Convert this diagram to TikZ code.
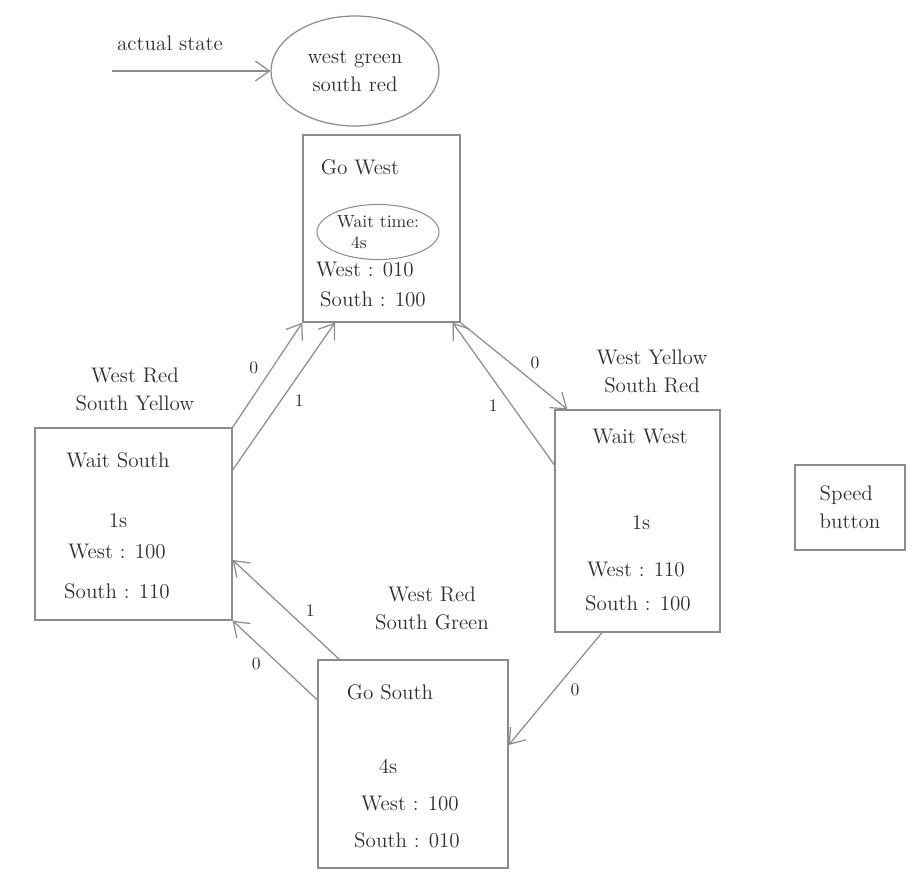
\documentclass[tikz,border=0pt]{standalone}
\usepackage{amsmath,amssymb}
\usepackage{tikz}
\usetikzlibrary{calc,arrows,arrows.meta,shapes,positioning}
\definecolor{pencil}{gray}{0.55}
\definecolor{graphite}{gray}{0.18}
\begin{document}
\begin{tikzpicture}[
    statebox/.style={draw=pencil, line width=0.7pt, rectangle},
    txt/.style={text=graphite, font=\large},
    lbl/.style={text=graphite, font=\normalsize, inner sep=3pt},
    conn/.style={-{Straight Barb[length=2.8mm,width=4mm]}, draw=pencil, line width=0.7pt}
  ]
      \useasboundingbox (0,0) rectangle (18.36,17.72);
      \begin{scope}
        \def\ring{pencil}

        \node[draw=\ring, line width=0.7pt, ellipse, minimum width=3.36cm, minimum height=2.2cm,
              txt, align=center] (state) at (7.1,16.3) {west green\\[2pt] south red};
        \node[txt] (actual) at (3.4,16.86) {actual state};
        \coordinate (start) at (2.24,16.3);
        \draw[conn] (start) -- (state.west);

        \node[statebox, minimum width=3.14cm, minimum height=3.74cm] (gowest) at (7.63,13.15) {};
        \node[txt] (gowtitle) at (7.2,14.38) {Go West};
        \node[draw=\ring, ellipse, line width=0.6pt, minimum width=2.44cm, minimum height=1.1cm,
              text=graphite, font=\normalsize, align=left, inner sep=0pt] (gowwait) at (7.56,13.08)
              {Wait time:\\ \hspace{0.8em}4s};
        \node[txt] (gowwest) at (7.3,12.32) {West : 010};
        \node[txt] (gowsouth) at (7.46,11.74) {South : 100};

        \node[statebox, minimum width=3.94cm, minimum height=3.84cm] (waitsouth) at (2.67,7.24) {};
        \node[txt] (wstitle) at (2.36,8.52) {Wait South};
        \node[txt] (wstime) at (2.36,7.3) {1s};
        \node[txt] (wswest) at (2.34,6.68) {West : 100};
        \node[txt] (wssouth) at (2.34,5.9) {South : 110};
        \node[txt, align=center] (wslights) at (2.7,9.94) {West Red\\[2pt] South Yellow};

        \node[statebox, minimum width=3.3cm, minimum height=4.44cm] (waitwest) at (12.75,7.3) {};
        \node[txt] (wwtitle) at (12.8,8.98) {Wait West};
        \node[txt] (wwtime) at (12.82,7.26) {1s};
        \node[txt] (wwwest) at (12.72,6.32) {West : 110};
        \node[txt] (wwsouth) at (12.76,5.66) {South : 100};
        \node[txt, align=center] (wwlights) at (13.04,10.3) {West Yellow\\[2pt] South Red};

        \node[statebox, minimum width=3.8cm, minimum height=4.16cm] (gosouth) at (8.26,2.44) {};
        \node[txt] (gostitle) at (7.8,3.88) {Go South};
        \node[txt] (gostime) at (7.76,2.4) {4s};
        \node[txt] (goswest) at (8.2,1.64) {West : 100};
        \node[txt] (gossouth) at (8.14,0.92) {South : 010};
        \node[txt, align=center] (goslights) at (8.64,5.56) {West Red\\[2pt] South Green};

        \node[statebox, minimum width=2.2cm, minimum height=1.7cm, txt, align=left] (speed)
              at (17.0,7.57) {Speed\\[2pt] button};

        \draw[conn] (waitsouth.north east) -- node[lbl, pos=0.45, above left] {0} (gowest.south west);
        \draw[conn] ([yshift=1.08cm]waitsouth.east) -- node[lbl, pos=0.55, below right] {1} ([xshift=-0.93cm]gowest.south);
        \draw[conn] (gowest.south east) -- node[lbl, pos=0.6, above right] {0} ([xshift=0.26cm]waitwest.north west);
        \draw[conn] ([yshift=1.12cm]waitwest.west) -- node[lbl, pos=0.5, below left] {1} ([xshift=-0.16cm]gowest.south east);
        \draw[conn] ([xshift=-0.71cm]waitwest.south) -- node[lbl, pos=0.4, below right] {0} ([yshift=0.38cm]gosouth.east);
        \draw[conn] ([xshift=0.44cm]gosouth.north west) -- node[lbl, pos=0.37, above right] {1} ([yshift=-0.72cm]waitsouth.east);
        \draw[conn] ([yshift=1.28cm]gosouth.west) -- node[lbl, pos=0.6, below left] {0} (waitsouth.south east);
      \end{scope}
    \end{tikzpicture}
\end{document}
